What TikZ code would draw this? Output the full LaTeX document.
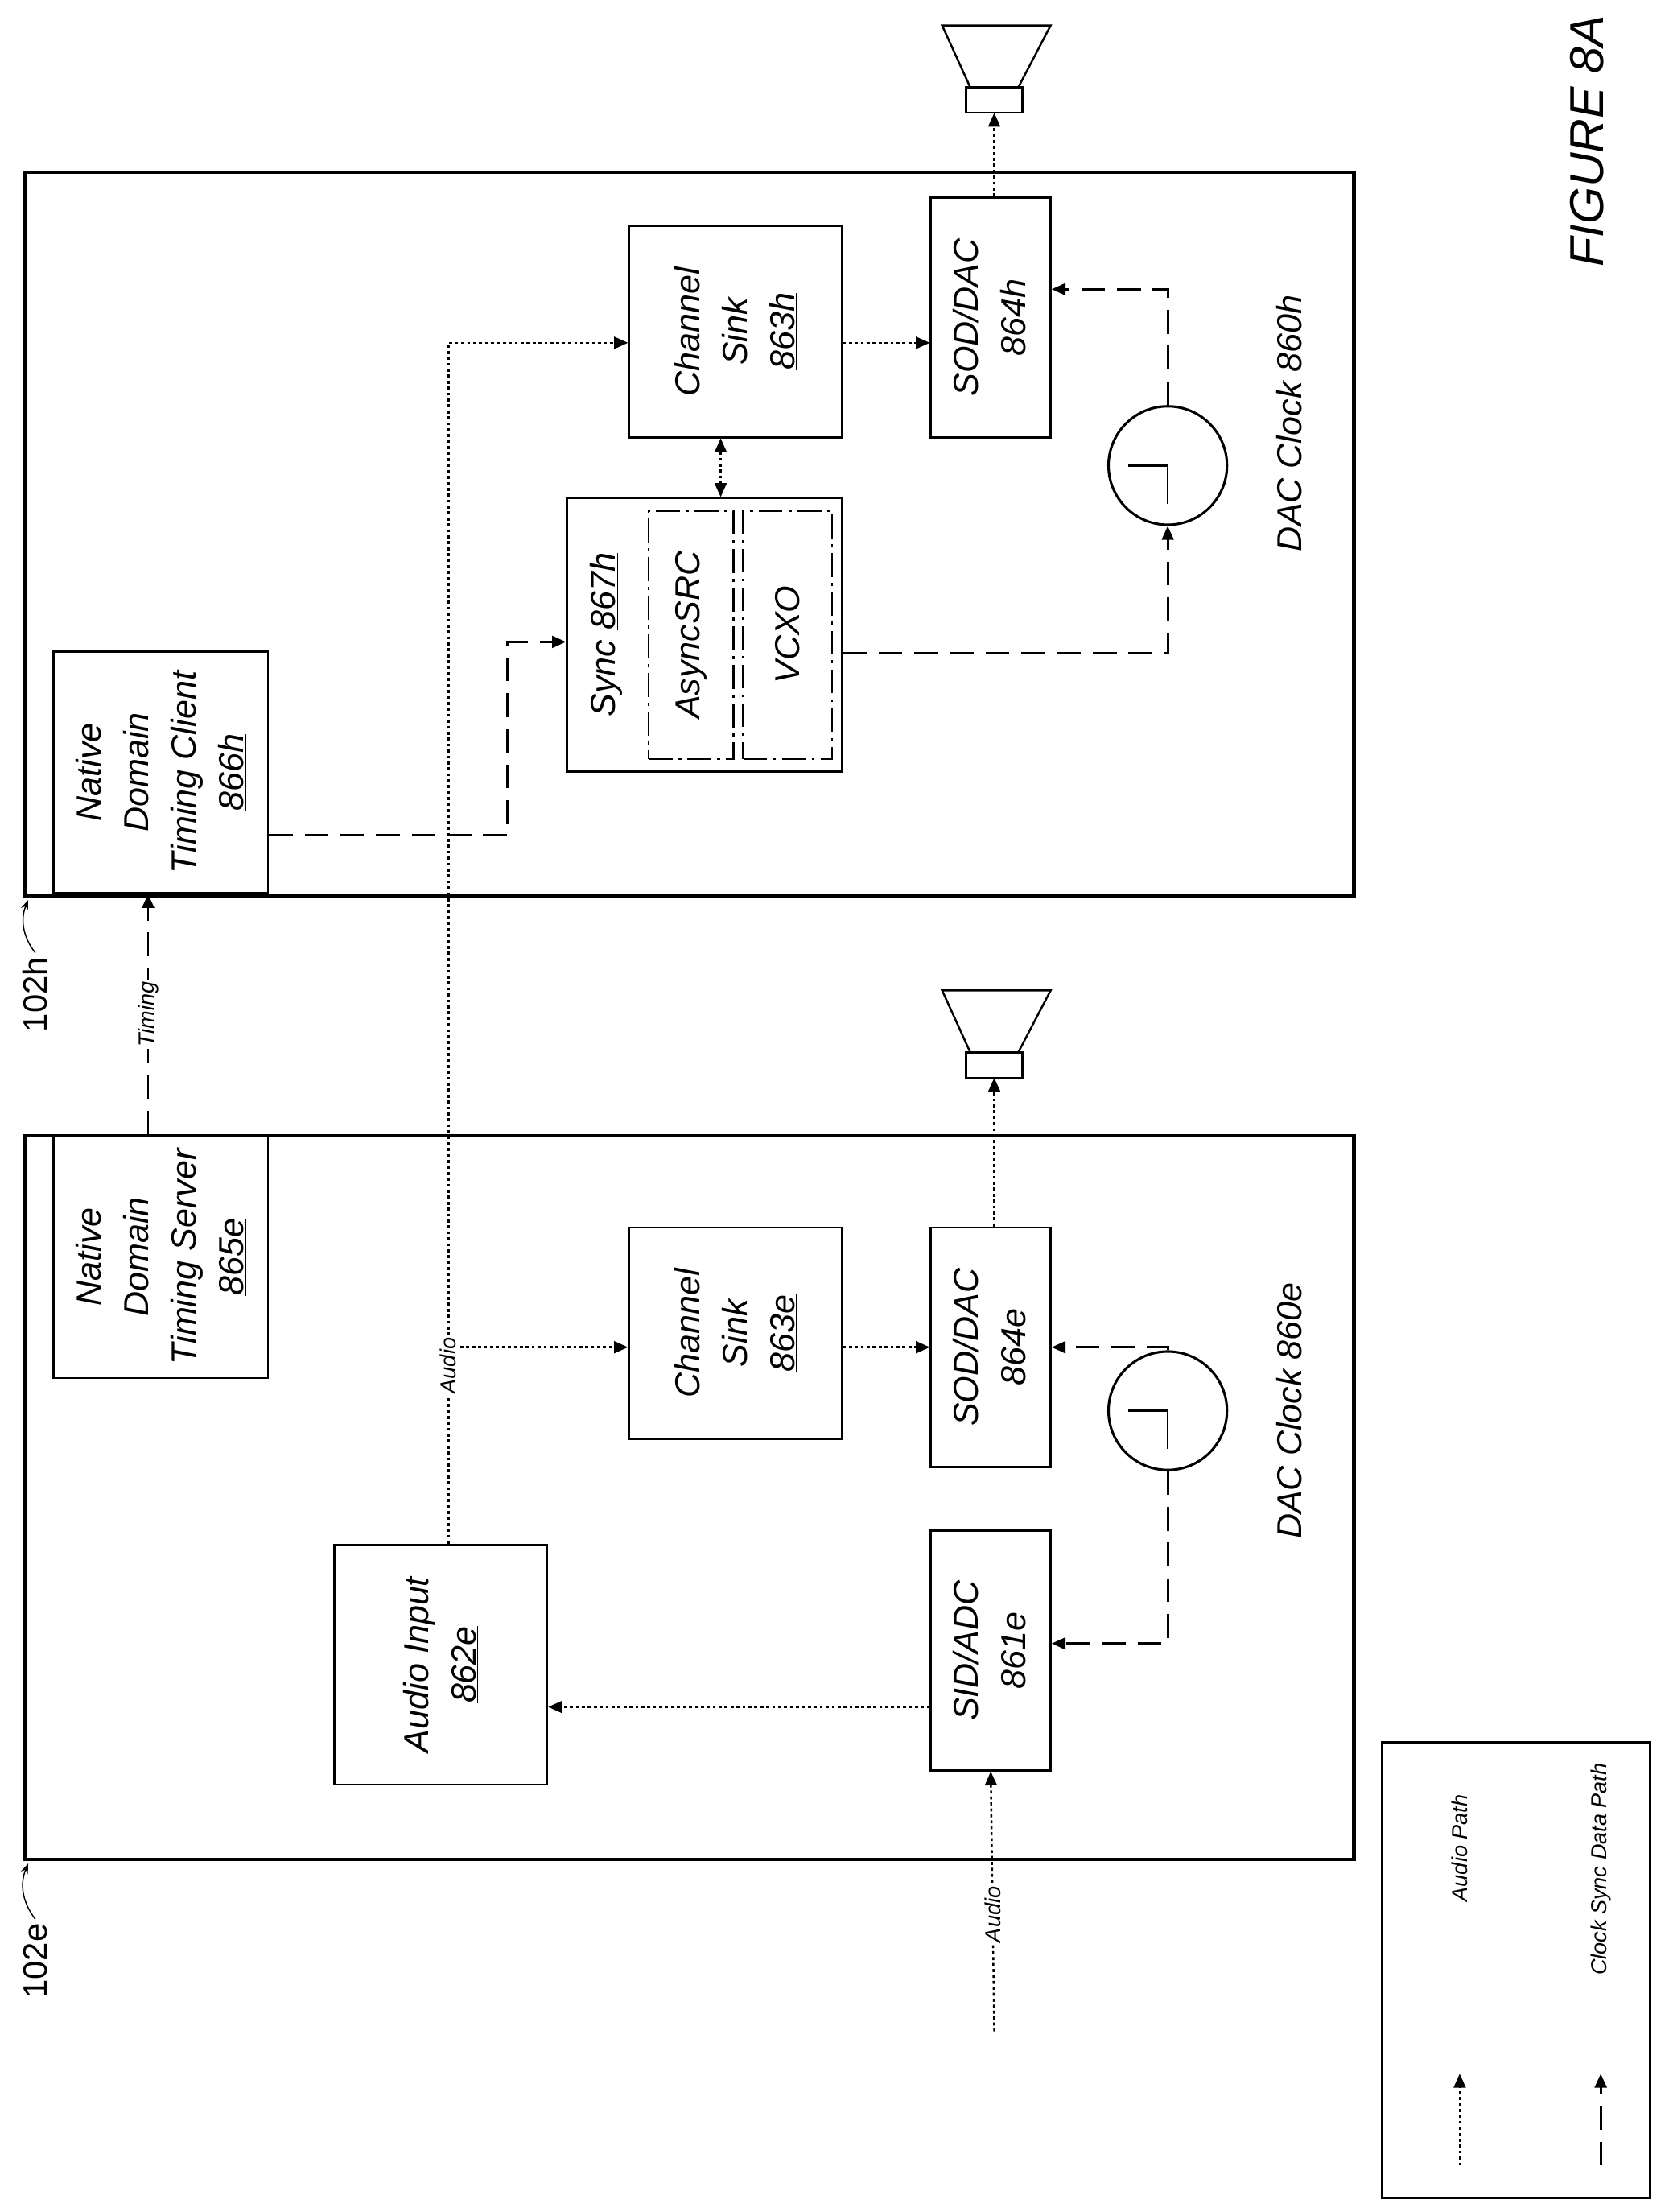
\documentclass[tikz,border=0pt]{standalone}
\usepackage{fontspec}
\setmainfont{Liberation Sans}
\usetikzlibrary{fit,arrows.meta}
\begin{document}
\begin{tikzpicture}[x=0.05cm,y=-0.05cm,>={Triangle[length=14pt,width=12pt]},line width=2pt,
    box/.style={draw,line width=2pt,inner sep=0pt},
    inner box/.style={draw,line width=2pt,inner sep=0pt,dash pattern=on 24pt off 6pt on 3pt off 6pt},
    lbl/.style={rotate=90,font=\fontsize{35}{48}\selectfont\itshape,align=center},
    small lbl/.style={rotate=90,font=\fontsize{22}{26}\selectfont\itshape,fill=white,inner sep=2pt},
    audio/.style={->,dash pattern=on 3pt off 3pt,line width=2pt},
    clk/.style={->,dash pattern=on 24pt off 12pt,line width=2.4pt}]

\useasboundingbox (0,0) rectangle (1186,1568);

% devices
\node[box,line width=3.5pt,fit={(18,122)(960,635)}] (d102h) {};
\node[box,line width=3.5pt,fit={(18,805)(960,1318)}] (d102e) {};

% device 102h
\node[box,fit={(38,462)(190,633)}] (tc866h) {};
\node[lbl] at (tc866h) {Native\\Domain\\Timing Client\\\underline{866h}};
\node[box,fit={(402,353)(597,547)}] (sy867h) {};
\node[lbl] at (430,450) {Sync \underline{867h}};
\node[inner box,fit={(460,362)(520,538)}] (asrc) {};
\node[lbl] at (asrc) {AsyncSRC};
\node[inner box,fit={(527,362)(590,538)}] (vcxo) {};
\node[lbl] at (vcxo) {VCXO};
\node[box,fit={(446,160)(597,310)}] (cs863h) {};
\node[lbl] at (cs863h) {Channel\\Sink\\\underline{863h}};
\node[box,fit={(660,140)(745,310)}] (sd864h) {};
\node[lbl] at (sd864h) {SOD/DAC\\\underline{864h}};
\node[draw,circle,line width=2.5pt,inner sep=0pt,minimum size=4.2cm] (ck860h) at (828,330) {};
\draw (800,330) -- (828,330) -- (828,357);
\node[lbl] at (915,300) {DAC Clock \underline{860h}};
\coordinate (sp860h) at (705,80);
\draw (685,62) rectangle (725,80);
\draw (688,62) -- (668,18) -- (745,18) -- (722,62);

% device 102e
\node[box,fit={(38,805)(190,977)}] (ts865e) {};
\node[lbl] at (ts865e) {Native\\Domain\\Timing Server\\\underline{865e}};
\node[box,fit={(446,870)(597,1020)}] (cs863e) {};
\node[lbl] at (cs863e) {Channel\\Sink\\\underline{863e}};
\node[box,fit={(660,870)(745,1040)}] (sd864e) {};
\node[lbl] at (sd864e) {SOD/DAC\\\underline{864e}};
\node[box,fit={(660,1085)(745,1255)}] (sa861e) {};
\node[lbl] at (sa861e) {SID/ADC\\\underline{861e}};
\node[box,fit={(237,1095)(388,1265)}] (ai862e) {};
\node[lbl] at (ai862e) {Audio Input\\\underline{862e}};
\node[draw,circle,line width=2.5pt,inner sep=0pt,minimum size=4.2cm] (ck860e) at (828,1000) {};
\draw (800,1000) -- (828,1000) -- (828,1027);
\node[lbl] at (915,1000) {DAC Clock \underline{860e}};
\draw (685,746) rectangle (725,764);
\draw (688,746) -- (668,702) -- (745,702) -- (722,746);
\coordinate (sp860e) at (705,764);

% audio paths
\coordinate (ain) at (705,1440);
\draw[audio] (ain) -- (sa861e.south) node[pos=0.45,small lbl] {Audio};
\draw[audio] (sa861e.west |- 0,1210) -- (ai862e.east |- 0,1210);
\draw[audio] (ai862e.north -| 318,0) -- (318,243) -- (cs863h.west |- 0,243);
\draw[audio] (318,955) -- (cs863e.west |- 0,955);
\node[small lbl] at (318,968) {Audio};
\draw[audio] (cs863h.east |- 0,243) -- (sd864h.west |- 0,243);
\draw[audio] (cs863e.east |- 0,955) -- (sd864e.west |- 0,955);
\draw[audio] (sd864h.north -| 705,0) -- (sp860h);
\draw[audio] (sd864e.north -| 705,0) -- (sp860e);
\draw[audio,<->] (cs863h.south -| 511,0) -- (sy867h.north -| 511,0);

% clock sync paths
\draw[clk] (ts865e.north -| 105,0) -- (tc866h.south -| 105,0) node[pos=0.5,small lbl] {Timing};
\draw[clk] (tc866h.east |- 0,592) -- (360,592) -- (360,455) -- (sy867h.west |- 0,455);
\draw[clk] (sy867h.east |- 0,463) -- (828,463) -- (ck860h.south);
\draw[clk] (ck860h.north) -- (828,205) -- (sd864h.east |- 0,205);
\draw[clk] (ck860e.north) -- (828,955) -- (sd864e.east |- 0,955);
\draw[clk] (ck860e.south) -- (828,1165) -- (sa861e.east |- 0,1165);

% references
\node[lbl,font=\fontsize{34}{40}\selectfont] (r102h) at (25,705) {102h};
\draw[->,line width=1.2pt,>={Stealth[length=10pt]}] (r102h.east) to[bend left=30] (20,638);
\node[lbl,font=\fontsize{34}{40}\selectfont] (r102e) at (25,1390) {102e};
\draw[->,line width=1.2pt,>={Stealth[length=10pt]}] (r102e.east) to[bend left=30] (20,1321);

% legend
\node[box,fit={(980,1235)(1170,1558)}] (lgd) {};
\coordinate (la) at (1035,1535);
\draw[audio] (la) -- (1035,1470);
\node[small lbl,fill=none] at (1035,1310) {Audio Path};
\coordinate (lc) at (1135,1535);
\draw[clk] (lc) -- (1135,1470);
\node[small lbl,fill=none] at (1135,1325) {Clock Sync Data Path};

\node[lbl,font=\fontsize{48}{56}\selectfont\itshape] at (1125,100) {FIGURE 8A};
\end{tikzpicture}
\end{document}
